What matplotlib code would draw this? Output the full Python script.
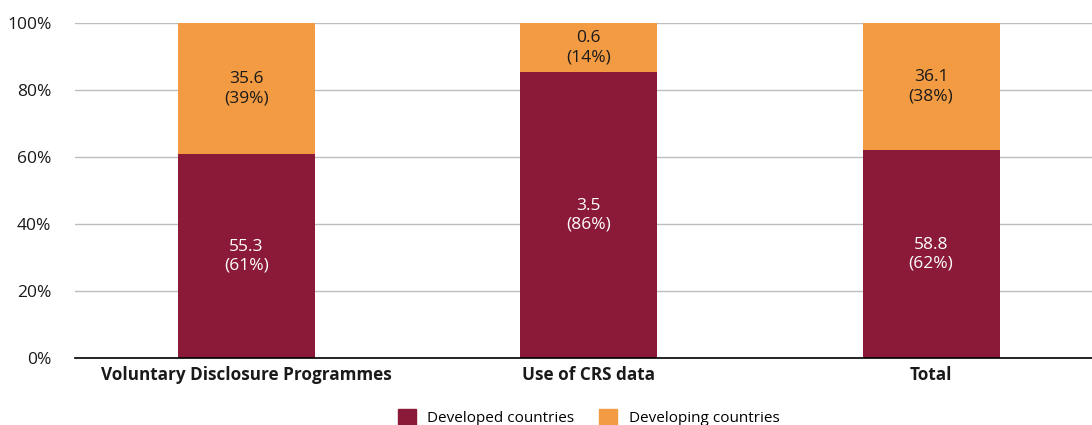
#!/usr/bin/env python3

import matplotlib
matplotlib.use('Agg')
import matplotlib.pyplot as plt
from matplotlib.patches import Patch
import numpy as np

CATEGORIES = ['Voluntary Disclosure Programmes', 'Use of CRS data', 'Total']
DEVELOPED = [55.3, 3.5, 58.8]
DEVELOPING = [35.6, 0.6, 36.1]
DEVELOPED_PCT = [61, 86, 62]
DEVELOPING_PCT = [39, 14, 38]
YTICKS = [0, 20, 40, 60, 80, 100]

MAROON = '#8B1A38'
ORANGE = '#F39B42'

plt.rcParams['font.family'] = ['Open Sans', 'DejaVu Sans']


def main():

    dev = np.array(DEVELOPED)
    devg = np.array(DEVELOPING)
    total = dev + devg
    dev_share = dev / total * 100
    devg_share = devg / total * 100
    x = np.arange(len(CATEGORIES))

    fig = plt.figure(figsize=(10.92, 4.25), dpi=100)
    ax = fig.add_axes([75 / 1092, 1 - 358 / 425, 1 - 75 / 1092, (358 - 23) / 425])

    width = 0.4
    ax.bar(x, dev_share, width, color=MAROON, zorder=3)
    ax.bar(x, devg_share, width, bottom=dev_share, color=ORANGE, zorder=3)

    for i in range(len(x)):
        ax.text(x[i], dev_share[i] / 2, f'{DEVELOPED[i]}\n({DEVELOPED_PCT[i]}%)',
                ha='center', va='center', color='white', fontsize=12.5,
                linespacing=1.25, zorder=4)
        ax.text(x[i], dev_share[i] + devg_share[i] / 2,
                f'{DEVELOPING[i]}\n({DEVELOPING_PCT[i]}%)',
                ha='center', va='center', color='#1a1a1a', fontsize=12.5,
                linespacing=1.25, zorder=4)

    ax.set_xlim(-0.5, 2.47)
    ax.set_ylim(0, 100)
    ax.set_yticks(YTICKS)
    ax.set_yticklabels([f'{t}%' for t in YTICKS], fontsize=12.5, color='#1a1a1a')
    ax.set_xticks(x)
    ax.set_xticklabels(CATEGORIES, fontsize=12.3, fontweight='bold', color='#1a1a1a')
    ax.tick_params(length=0)
    ax.tick_params(axis='y', pad=17)
    ax.tick_params(axis='x', pad=6)

    ax.grid(axis='y', color='#bdbdbd', lw=1, zorder=0)
    for side in ['left', 'right', 'top']:
        ax.spines[side].set_visible(False)
    ax.spines['bottom'].set_color('black')
    ax.spines['bottom'].set_linewidth(1.2)
    ax.spines['bottom'].set_zorder(5)

    handles = [Patch(color=MAROON, label='Developed countries'),
               Patch(color=ORANGE, label='Developing countries')]
    fig.legend(handles=handles, loc='lower center', bbox_to_anchor=(0.539, -0.035),
               ncol=2, frameon=False, fontsize=11, handlelength=1.2,
               handleheight=1.2, columnspacing=1.6, handletextpad=0.75)

    fig.savefig('out.png', dpi=100)


if __name__ == '__main__':
    main()
